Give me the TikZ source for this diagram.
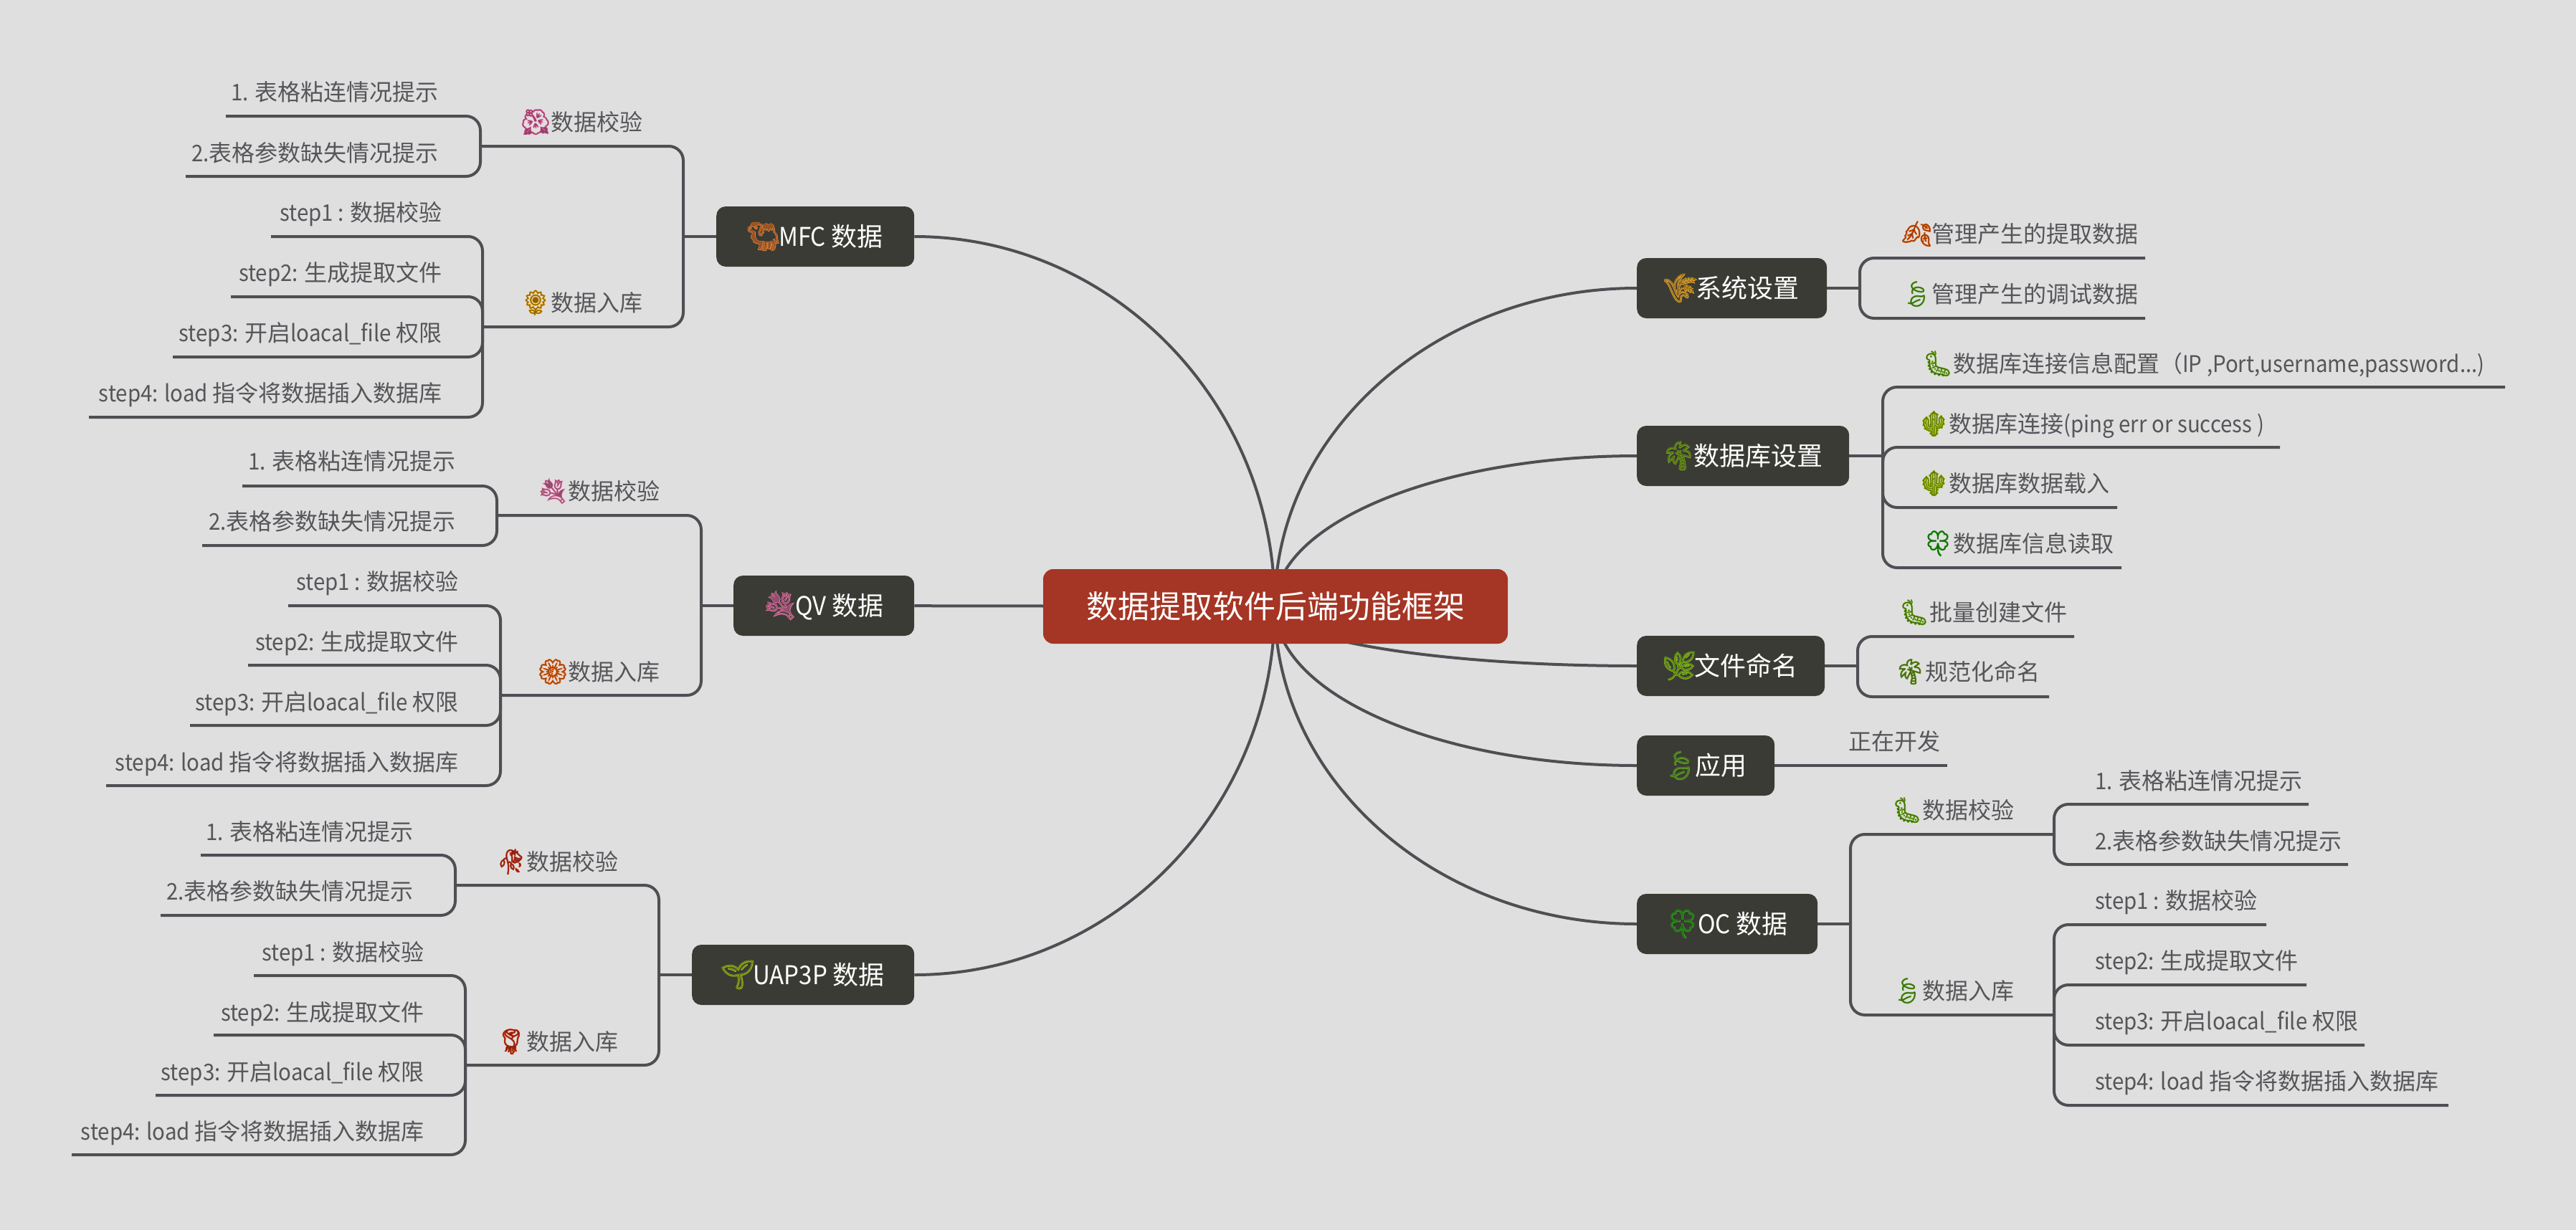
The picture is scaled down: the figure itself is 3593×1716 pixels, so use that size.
\documentclass[tikz,border=0pt]{standalone}
\usepackage{fontspec}
\usepackage{xcolor}
\usetikzlibrary{backgrounds}
\setmainfont{Noto Sans CJK SC}
\newfontfamily\latinpart[FakeStretch=0.92]{Noto Sans CJK SC}
\newfontfamily\emojifont[Scale=1.08]{Noto Emoji}
\newfontfamily\emojifill[Scale=1.08,FakeBold=3]{Noto Emoji}
\definecolor{paper}{HTML}{DFDFDF}
\definecolor{wire}{HTML}{4E4E53}
\definecolor{ink}{HTML}{56565A}
\definecolor{topicfill}{HTML}{3A3B34}
\definecolor{mainfill}{HTML}{A53524}
\def\la#1{{\latinpart #1}}
\def\emo#1#2{\definecolor{emotint}{HTML}{#1}\makebox[1.2em][c]{\rlap{\emojifill\textcolor{emotint}{#2}}{\emojifont\textcolor{emotint!62!black}{#2}}}}
\def\hang#1#2{\llap{\emo{#1}{#2}\hspace{2pt}}}
\tikzset{
	wirepath/.style={draw=wire, line width=4pt, rounded corners=20pt},
	mainbox/.style={fill=mainfill, text=white, rounded corners=14pt, minimum width=648pt, minimum height=104pt, inner sep=0pt, font=\fontsize{44}{50}\selectfont},
	topicbox/.style={fill=topicfill, text=white, rounded corners=13pt, minimum height=84pt, inner sep=0pt, anchor=west, font=\fontsize{36}{40}\selectfont},
	note/.style={text=ink, inner sep=0pt, text height=30pt, text depth=6pt, font=\fontsize{32}{38}\selectfont},
	noteL/.style={note, anchor=east},
	noteR/.style={note, anchor=west}
}

\begin{document}
\begin{tikzpicture}[x=1pt, y=-1pt]
		%%%%% START %%%%%
		\useasboundingbox (0, 0) rectangle (3593, 1716);
		
		% boxes
		\node[mainbox] (main) at (1779, 846) {数据提取软件后端功能框架};
		\coordinate (hub) at (1778, 846);
		\node[topicbox, minimum width=276pt] (mfc) at (999, 330) {\emo{F4873C}{🐫}\la{MFC }数据};
		\node[topicbox, minimum width=252pt] (qv) at (1023, 845) {\emo{F07CB0}{💐}\la{QV }数据};
		\node[topicbox, minimum width=310pt] (uap) at (965, 1360) {\emo{A8C81E}{🌱}\la{UAP3P }数据};
		\node[topicbox, minimum width=265pt] (sys) at (2283, 402) {\emo{F0B030}{🌾}系统设置};
		\node[topicbox, minimum width=296pt] (db) at (2283, 636) {\emo{7FB01E}{🌴}数据库设置};
		\node[topicbox, minimum width=262pt] (file) at (2283, 929) {\emo{8CC81E}{🌿}文件命名};
		\node[topicbox, minimum width=192pt] (app) at (2283, 1068) {\emo{6CB52A}{🍃}应用};
		\node[topicbox, minimum width=252pt] (oc) at (2283, 1289) {\emo{2FB01A}{🍀}\la{OC }数据};
		
		% MFC
		\node[noteR] (mfcV) at (768, 170) {\hang{F06BA8}{🌺}数据校验};
		\node[noteR] (mfcL) at (768, 422) {\hang{E8A200}{🌻}数据入库};
		\node[noteL] (mfcV1) at (612, 128) {\la{1. }表格粘连情况提示};
		\node[noteL] (mfcV2) at (612, 213) {\la{2.}表格参数缺失情况提示};
		\node[noteL] (mfcL1) at (617, 296) {\la{step1 : }数据校验};
		\node[noteL] (mfcL2) at (617, 380) {\la{step2: }生成提取文件};
		\node[noteL] (mfcL3) at (617, 464) {\la{step3: }开启\la{loacal\_file }权限};
		\node[noteL] (mfcL4) at (617, 548) {\la{step4: load }指令将数据插入数据库};
		
		% QV
		\node[noteR] (qvV) at (792, 685) {\hang{F07CB0}{💐}数据校验};
		\node[noteR] (qvL) at (792, 937) {\hang{F26A1B}{🌼}数据入库};
		\node[noteL] (qvV1) at (636, 643) {\la{1. }表格粘连情况提示};
		\node[noteL] (qvV2) at (636, 727) {\la{2.}表格参数缺失情况提示};
		\node[noteL] (qvL1) at (640, 811) {\la{step1 : }数据校验};
		\node[noteL] (qvL2) at (640, 895) {\la{step2: }生成提取文件};
		\node[noteL] (qvL3) at (640, 979) {\la{step3: }开启\la{loacal\_file }权限};
		\node[noteL] (qvL4) at (640, 1063) {\la{step4: load }指令将数据插入数据库};
		
		% UAP3P
		\node[noteR] (uapV) at (734, 1202) {\hang{D9381E}{🥀}数据校验};
		\node[noteR] (uapL) at (734, 1453) {\hang{E0391A}{🌹}数据入库};
		\node[noteL] (uapV1) at (577, 1160) {\la{1. }表格粘连情况提示};
		\node[noteL] (uapV2) at (577, 1243) {\la{2.}表格参数缺失情况提示};
		\node[noteL] (uapL1) at (592, 1328) {\la{step1 : }数据校验};
		\node[noteL] (uapL2) at (592, 1412) {\la{step2: }生成提取文件};
		\node[noteL] (uapL3) at (592, 1495) {\la{step3: }开启\la{loacal\_file }权限};
		\node[noteL] (uapL4) at (592, 1578) {\la{step4: load }指令将数据插入数据库};
		
		% right side
		\node[noteR] (sysA) at (2694, 326) {\hang{F06010}{🍂}管理产生的提取数据};
		\node[noteR] (sysB) at (2694, 410) {\hang{5CA81E}{🍃}管理产生的调试数据};
		\node[noteR] (dbA) at (2724, 507) {\hang{6FAE1A}{🐛}数据库连接信息配置（\la{IP ,Port,username,password...)}};
		\node[noteR] (dbB) at (2718, 591) {\hang{9BBE0A}{🌵}数据库连接\la{(ping err or success )}};
		\node[noteR] (dbC) at (2718, 674) {\hang{9BBE0A}{🌵}数据库数据载入};
		\node[noteR] (dbD) at (2724, 758) {\hang{22A012}{🍀}数据库信息读取};
		\node[noteR] (fileA) at (2691, 854) {\hang{6FAE1A}{🐛}批量创建文件};
		\node[noteR] (fileB) at (2685, 937) {\hang{6FA020}{🌴}规范化命名};
		\node[noteR] (appA) at (2578, 1034) {正在开发};
		
		% OC
		\node[noteR] (ocV) at (2681, 1130) {\hang{6FAE1A}{🐛}数据校验};
		\node[noteR] (ocL) at (2681, 1382) {\hang{5CA81E}{🍃}数据入库};
		\node[noteR] (ocV1) at (2922, 1089) {\la{1. }表格粘连情况提示};
		\node[noteR] (ocV2) at (2922, 1173) {\la{2.}表格参数缺失情况提示};
		\node[noteR] (ocL1) at (2922, 1256) {\la{step1 : }数据校验};
		\node[noteR] (ocL2) at (2922, 1340) {\la{step2: }生成提取文件};
		\node[noteR] (ocL3) at (2922, 1424) {\la{step3: }开启\la{loacal\_file }权限};
		\node[noteR] (ocL4) at (2922, 1508) {\la{step4: load }指令将数据插入数据库};
		
		% free ends of the underlines and the joints
		\coordinate (mfcT) at (953, 330);
		\coordinate (mfcVj) at (670, 204);
		\coordinate (mfcLj) at (673, 456);
		\coordinate (mfcV1u) at (315, 162);
		\coordinate (mfcV2u) at (259, 246);
		\coordinate (mfcL1u) at (378, 330);
		\coordinate (mfcL2u) at (322, 414);
		\coordinate (mfcL3u) at (241, 498);
		\coordinate (mfcL4u) at (124, 582);
		
		\coordinate (qvT) at (978, 845);
		\coordinate (qvVj) at (693, 719);
		\coordinate (qvLj) at (698, 970);
		\coordinate (qvV1u) at (338, 678);
		\coordinate (qvV2u) at (282, 761);
		\coordinate (qvL1u) at (402, 845);
		\coordinate (qvL2u) at (346, 928);
		\coordinate (qvL3u) at (265, 1012);
		\coordinate (qvL4u) at (148, 1096);
		
		\coordinate (uapT) at (919, 1360);
		\coordinate (uapVj) at (635, 1235);
		\coordinate (uapLj) at (649, 1486);
		\coordinate (uapV1u) at (280, 1193);
		\coordinate (uapV2u) at (224, 1277);
		\coordinate (uapL1u) at (354, 1361);
		\coordinate (uapL2u) at (298, 1444);
		\coordinate (uapL3u) at (217, 1528);
		\coordinate (uapL4u) at (100, 1611);
		
		\coordinate (sysT) at (2594, 402);
		\coordinate (sysAu) at (2992, 360);
		\coordinate (sysBu) at (2992, 444);
		\coordinate (dbT) at (2626, 636);
		\coordinate (dbAu) at (3494, 540);
		\coordinate (dbBu) at (3180, 624);
		\coordinate (dbCu) at (2953, 708);
		\coordinate (dbDu) at (2959, 792);
		\coordinate (fileT) at (2591, 929);
		\coordinate (fileAu) at (2893, 888);
		\coordinate (fileBu) at (2858, 972);
		\coordinate (appAu) at (2716, 1068);
		
		\coordinate (ocT) at (2581, 1289);
		\coordinate (ocVj) at (2865, 1164);
		\coordinate (ocLj) at (2865, 1416);
		\coordinate (ocV1u) at (3220, 1122);
		\coordinate (ocV2u) at (3275, 1206);
		\coordinate (ocL1u) at (3161, 1290);
		\coordinate (ocL2u) at (3217, 1374);
		\coordinate (ocL3u) at (3298, 1458);
		\coordinate (ocL4u) at (3415, 1542);
		
		\begin{scope}[on background layer]
			\fill[paper] (0, 0) rectangle (3593, 1716);
			
			% from the main box
			\draw[wirepath] (hub) .. controls +(0, -284) and +(277, 0) .. (mfc.east);
			\draw[wirepath] (main) -- (qv);
			\draw[wirepath] (hub) .. controls +(0, 283) and +(277, 0) .. (uap.east);
			\draw[wirepath] (hub) .. controls +(0, -244) and +(-278, 0) .. (sys.west);
			\draw[wirepath] (hub) .. controls +(0, -115) and +(-278, 0) .. (db.west);
			\draw[wirepath] (hub) .. controls +(0, 46) and +(-278, 0) .. (file.west);
			\draw[wirepath] (hub) .. controls +(0, 122) and +(-278, 0) .. (app.west);
			\draw[wirepath] (hub) .. controls +(0, 244) and +(-278, 0) .. (oc.west);
			
			% MFC
			\draw[wirepath] (mfc) -- (mfcT);
			\draw[wirepath] (mfcVj) -| (mfcT);
			\draw[wirepath] (mfcLj) -| (mfcT);
			\draw[wirepath] (mfcV1u) -| (mfcVj);
			\draw[wirepath] (mfcV2u) -| (mfcVj);
			\draw[wirepath] (mfcL1u) -| (mfcLj);
			\draw[wirepath] (mfcL2u) -| (mfcLj);
			\draw[wirepath] (mfcL3u) -| (mfcLj);
			\draw[wirepath] (mfcL4u) -| (mfcLj);
			
			% QV
			\draw[wirepath] (qv) -- (qvT);
			\draw[wirepath] (qvVj) -| (qvT);
			\draw[wirepath] (qvLj) -| (qvT);
			\draw[wirepath] (qvV1u) -| (qvVj);
			\draw[wirepath] (qvV2u) -| (qvVj);
			\draw[wirepath] (qvL1u) -| (qvLj);
			\draw[wirepath] (qvL2u) -| (qvLj);
			\draw[wirepath] (qvL3u) -| (qvLj);
			\draw[wirepath] (qvL4u) -| (qvLj);
			
			% UAP3P
			\draw[wirepath] (uap) -- (uapT);
			\draw[wirepath] (uapVj) -| (uapT);
			\draw[wirepath] (uapLj) -| (uapT);
			\draw[wirepath] (uapV1u) -| (uapVj);
			\draw[wirepath] (uapV2u) -| (uapVj);
			\draw[wirepath] (uapL1u) -| (uapLj);
			\draw[wirepath] (uapL2u) -| (uapLj);
			\draw[wirepath] (uapL3u) -| (uapLj);
			\draw[wirepath] (uapL4u) -| (uapLj);
			
			% right side
			\draw[wirepath] (sys) -- (sysT);
			\draw[wirepath] (sysT) |- (sysAu);
			\draw[wirepath] (sysT) |- (sysBu);
			\draw[wirepath] (db) -- (dbT);
			\draw[wirepath] (dbT) |- (dbAu);
			\draw[wirepath] (dbT) |- (dbBu);
			\draw[wirepath] (dbT) |- (dbCu);
			\draw[wirepath] (dbT) |- (dbDu);
			\draw[wirepath] (file) -- (fileT);
			\draw[wirepath] (fileT) |- (fileAu);
			\draw[wirepath] (fileT) |- (fileBu);
			\draw[wirepath] (app) -- (appAu);
			
			% OC
			\draw[wirepath] (oc) -- (ocT);
			\draw[wirepath] (ocT) |- (ocVj);
			\draw[wirepath] (ocT) |- (ocLj);
			\draw[wirepath] (ocVj) |- (ocV1u);
			\draw[wirepath] (ocVj) |- (ocV2u);
			\draw[wirepath] (ocLj) |- (ocL1u);
			\draw[wirepath] (ocLj) |- (ocL2u);
			\draw[wirepath] (ocLj) |- (ocL3u);
			\draw[wirepath] (ocLj) |- (ocL4u);
		\end{scope}
		%%%%% END %%%%%
	\end{tikzpicture}
\end{document}
